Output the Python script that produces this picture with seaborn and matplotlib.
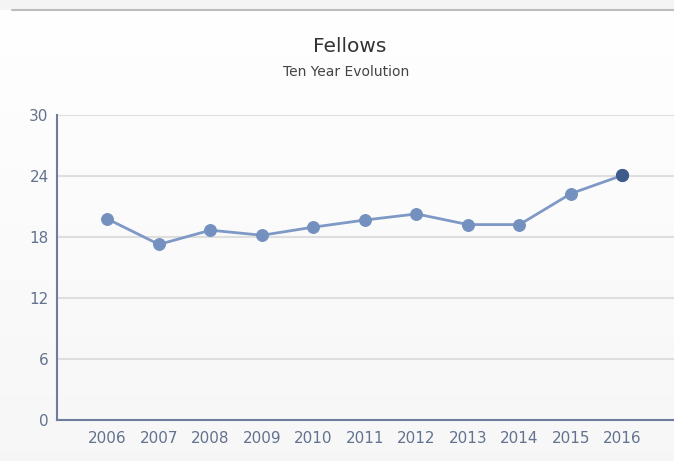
import numpy as np
import pandas as pd
import matplotlib
matplotlib.use('Agg')
import matplotlib.pyplot as plt
import seaborn as sns
from matplotlib.patches import Rectangle
from matplotlib.lines import Line2D

years = [2006, 2007, 2008, 2009, 2010, 2011, 2012, 2013, 2014, 2015, 2016]
fellows = [19.8, 17.3, 18.7, 18.2, 19.0, 19.7, 20.3, 19.25, 19.25, 22.3, 24.1]
y_ticks = [0, 6, 12, 18, 24, 30]

df = pd.DataFrame({'year': years, 'fellows': fellows})

sns.set_theme(style='white')
plt.rcParams['font.family'] = ['DejaVu Sans']

fig = plt.figure(figsize=(6.74, 4.61), dpi=100)
fig.patch.set_facecolor('white')

# soft background gradient (white at top, light grey at bottom)
bg = fig.add_axes([0, 0, 1, 1], zorder=-10)
grad = np.linspace(1.0, 0.968, 256).reshape(-1, 1)
bg.imshow(np.dstack([grad, grad, grad]), aspect='auto', extent=[0, 1, 0, 1],
          origin='upper')
bg.set_axis_off()

# top header band and separator line
fig.patches.append(Rectangle((0, 1 - 10 / 461), 1, 10 / 461, transform=fig.transFigure,
                             facecolor='#f4f4f4', edgecolor='none', zorder=-5))
fig.lines.append(Line2D([12 / 674, 1], [1 - 10.5 / 461] * 2, transform=fig.transFigure,
                        color='#bcbcbc', linewidth=1.5))

ax = fig.add_axes([57 / 674, 1 - 420.3 / 461, 1 - 57 / 674, (420.3 - 115.3) / 461])
ax.set_facecolor('none')

sns.lineplot(data=df, x='year', y='fellows', ax=ax, color='#7e99c6', linewidth=2,
             marker='o', markersize=8.5, markerfacecolor='#7390be',
             markeredgecolor='#7390be', zorder=3)
ax.plot(years[-1:], fellows[-1:], 'o', markersize=8.5, color='#3e5b8c', zorder=4)

ax.set_ylim(0, 30)
ax.set_xlim(2005.02, 2017.0)
ax.set_yticks(y_ticks)
ax.set_xticks(years)
ax.set_xlabel('')
ax.set_ylabel('')

ax.grid(axis='y', color='#dedede', linewidth=1.5)
ax.set_axisbelow(True)
for side in ['top', 'right']:
    ax.spines[side].set_visible(False)
for side in ['left', 'bottom']:
    ax.spines[side].set_color('#6d7d9c')
    ax.spines[side].set_linewidth(1.5)

ax.tick_params(axis='both', length=0, labelsize=11, labelcolor='#62728f')
ax.tick_params(axis='y', pad=6)
ax.tick_params(axis='x', pad=8)

fig.text(350 / 674, 1 - 46 / 461, 'Fellows', ha='center', va='center',
         fontsize=14.5, color='#333333')
fig.text(346 / 674, 1 - 72 / 461, 'Ten Year Evolution', ha='center', va='center',
         fontsize=10, color='#444444')

fig.savefig('out.png', dpi=100)
